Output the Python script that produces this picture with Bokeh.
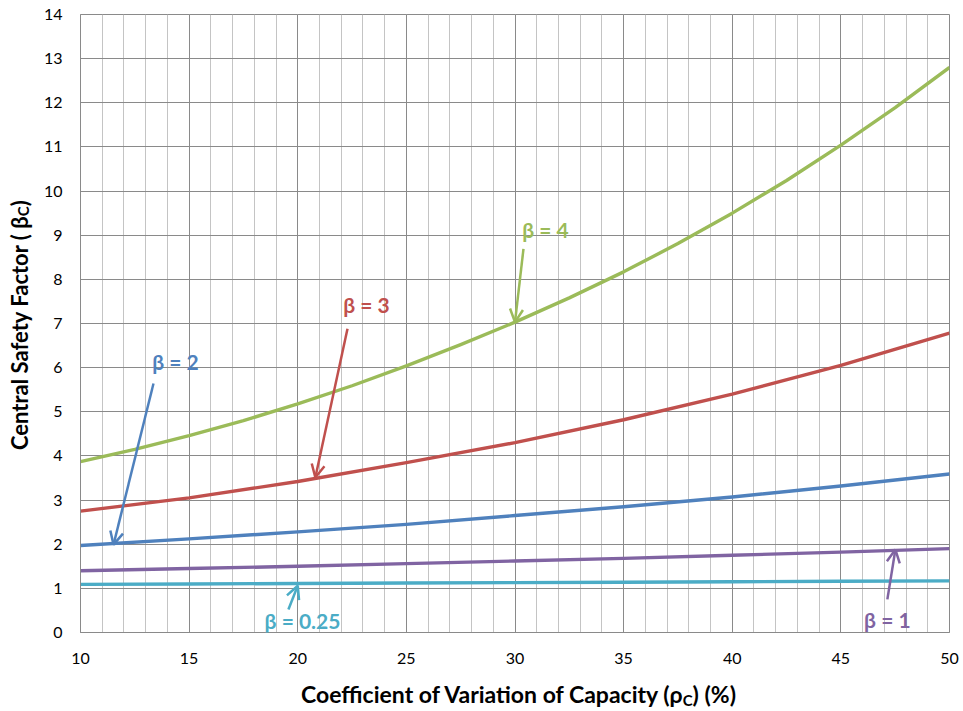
from bokeh.plotting import figure
from bokeh.models import Range1d, SingleIntervalTicker, Label, Arrow, OpenHead, Div
from bokeh.layouts import row, column
from bokeh.embed import file_html
from bokeh.resources import INLINE

# ---- data ----
x_fine = [10, 12.5, 15, 17.5, 20, 22.5, 25, 27.5, 30, 32.5, 35, 37.5, 40, 42.5, 45, 47.5, 50]
beta4 = [3.87, 4.15, 4.46, 4.80, 5.18, 5.59, 6.04, 6.52, 7.03, 7.58, 8.17, 8.81, 9.50, 10.24, 11.04, 11.89, 12.80]

x_coarse = [10, 15, 20, 25, 30, 35, 40, 45, 50]
beta3 = [2.75, 3.05, 3.42, 3.85, 4.30, 4.82, 5.40, 6.05, 6.78]
beta2 = [1.97, 2.12, 2.28, 2.45, 2.65, 2.85, 3.07, 3.32, 3.59]
beta1 = [1.40, 1.45, 1.50, 1.56, 1.62, 1.68, 1.75, 1.82, 1.90]
beta025 = [1.09, 1.10, 1.11, 1.12, 1.13, 1.14, 1.15, 1.16, 1.17]

labels = ["β = 4", "β = 3", "β = 2", "β = 1", "β = 0.25"]
colors = ["#9BBB59", "#C0504D", "#4F81BD", "#8064A2", "#4BACC6"]

x_title_main = "Coefficient of Variation of Capacity (ρ"
x_title_sub = "C"
x_title_end = ") (%)"
y_title_main = "Central Safety Factor ( β"
y_title_sub = "C"
y_title_end = ")"

# label anchor positions (data units) and arrow start/end
label_x = [31.40, 23.16, 14.37, 47.14, 20.22]
label_y = [9.12, 7.42, 6.13, 0.29, 0.27]
arrow_x0 = [30.39, 22.29, 13.36, 47.14, 19.57]
arrow_y0 = [8.69, 6.88, 5.64, 0.75, 0.52]
arrow_x1 = [30.00, 20.81, 11.52, 47.51, 20.00]
arrow_y1 = [7.03, 3.51, 1.99, 1.88, 1.06]

FONT = "Lato"

p = figure(width=920, height=671, output_backend="svg", toolbar_location=None,
           x_range=Range1d(10, 50), y_range=Range1d(0, 14),
           min_border_left=40, min_border_right=11, min_border_top=14, min_border_bottom=39)

p.background_fill_color = "white"
p.border_fill_color = "white"
p.outline_line_color = "#8a8a8a"
p.outline_line_width = 1

xt = SingleIntervalTicker(interval=5, num_minor_ticks=5)
yt = SingleIntervalTicker(interval=1, num_minor_ticks=0)
p.xaxis.ticker = xt
p.yaxis.ticker = yt
p.xgrid.ticker = xt
p.ygrid.ticker = yt

p.xgrid.grid_line_color = "#8a8a8a"
p.xgrid.grid_line_width = 1
p.xgrid.minor_grid_line_color = "#c4c4c4"
p.xgrid.minor_grid_line_width = 1
p.ygrid.grid_line_color = "#8a8a8a"
p.ygrid.grid_line_width = 1

for ax in (p.xaxis, p.yaxis):
    ax.axis_line_color = "#8a8a8a"
    ax.major_tick_line_color = None
    ax.minor_tick_line_color = None
    ax.major_tick_out = 0
    ax.major_tick_in = 0
    ax.major_label_text_font = FONT
    ax.major_label_text_font_size = "16px"
    ax.major_label_text_color = "#000000"
p.yaxis.major_label_standoff = 18
p.xaxis.major_label_standoff = 16

# curves
p.line(x_fine, beta4, line_color=colors[0], line_width=3.4, line_join="round")
p.line(x_coarse, beta3, line_color=colors[1], line_width=3.4, line_join="round")
p.line(x_coarse, beta2, line_color=colors[2], line_width=3.4, line_join="round")
p.line(x_coarse, beta1, line_color=colors[3], line_width=3.4, line_join="round")
p.line(x_coarse, beta025, line_color=colors[4], line_width=3.4, line_join="round")

# annotations
for i in range(len(labels)):
    p.add_layout(Arrow(end=OpenHead(size=13, line_color=colors[i], line_width=2.5),
                       x_start=arrow_x0[i], y_start=arrow_y0[i],
                       x_end=arrow_x1[i], y_end=arrow_y1[i],
                       line_color=colors[i], line_width=2.5))
    p.add_layout(Label(x=label_x[i], y=label_y[i], text=labels[i],
                       text_align="center", text_baseline="middle",
                       text_font=FONT, text_font_style="bold",
                       text_font_size="21px", text_color=colors[i]))

# axis titles as HTML (to allow subscripts)
base_css = "font-family:Lato; font-weight:bold; color:#000; white-space:nowrap; box-sizing:border-box;"
sub_css = "font-size:15px; vertical-align:-3px; line-height:0;"

x_div = Div(width=920, height=37, margin=0,
            text=(f'<div style="{base_css} font-size:23px; width:920px; padding-left:37px; '
                  f'text-align:center; padding-top:9px; line-height:28px;">'
                  f'{x_title_main}<span style="{sub_css}">{x_title_sub}</span>{x_title_end}</div>'))

y_div = Div(width=40, height=708, margin=0,
            text=(f'<div style="{base_css} font-size:22px; writing-mode:vertical-rl; transform:rotate(180deg); '
                  f'width:26px; height:650px; margin-left:7px; line-height:26px; text-align:center;">'
                  f'{y_title_main}<span style="{sub_css}">{y_title_sub}</span>{y_title_end}</div>'))

layout = row(y_div, column(p, x_div))

open("out.html", "w").write(file_html(layout, INLINE))
